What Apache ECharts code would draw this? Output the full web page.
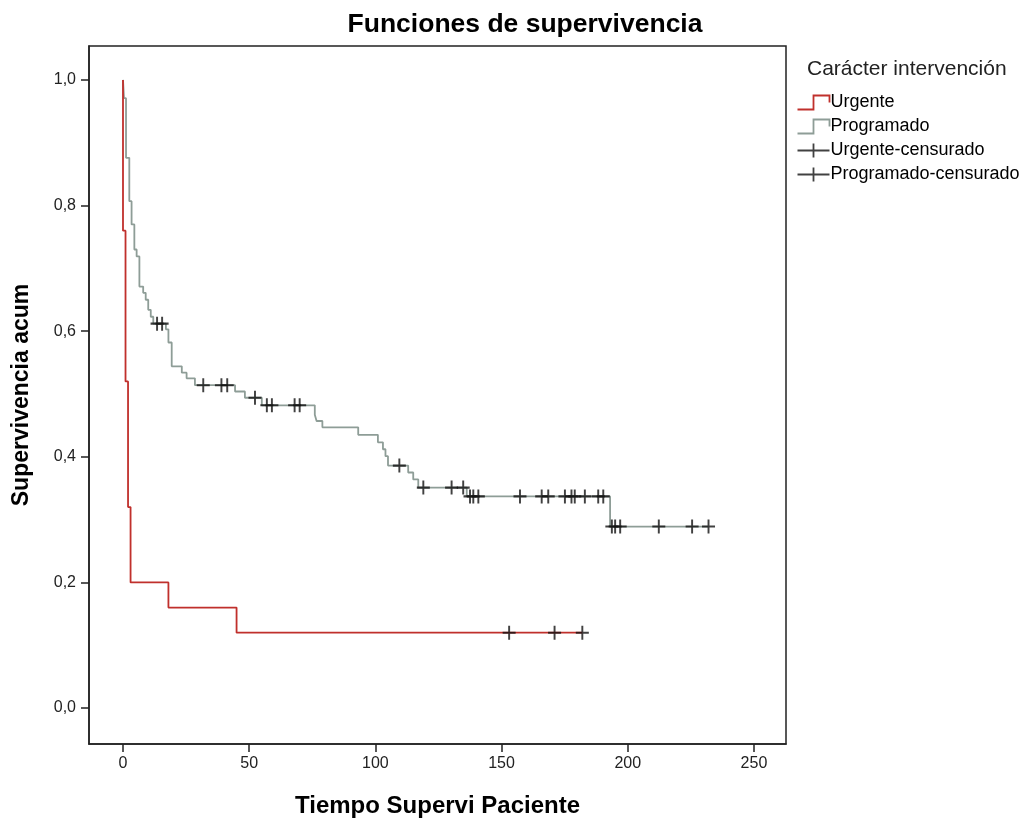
<!DOCTYPE html>
<html>
<head>
<meta charset="utf-8">
<script src="https://cdn.jsdelivr.net/npm/echarts@6/dist/echarts.min.js"></script>
<style>
  html, body { margin: 0; padding: 0; background: #ffffff; }
  #chart { width: 1029px; height: 823px; }
</style>
</head>
<body>
<div id="chart"></div>
<script>
// Kaplan-Meier estimates: [time, cumulative survival after the event at that time]
const urgenteSteps = [
  [0, 1.00], [0, 0.76], [1, 0.52], [2, 0.32], [3, 0.20], [18, 0.16], [45, 0.12], [182, 0.12]
];
const programadoSteps = [
  [0, 1.00], [0.4, 0.971], [1.2, 0.876], [2.5, 0.807], [3.4, 0.770], [4.5, 0.730],
  [5.4, 0.719], [6.5, 0.671], [8, 0.661], [9, 0.650], [10, 0.634], [11, 0.623],
  [12, 0.612], [17, 0.603], [18, 0.582], [19.3, 0.544], [23.3, 0.534], [25.2, 0.525],
  [28.5, 0.514], [44.4, 0.504], [48.3, 0.494], [55, 0.482], [76, 0.467], [76.7, 0.457],
  [79, 0.447], [93.2, 0.435], [101, 0.423], [103, 0.412], [104, 0.401], [105, 0.386],
  [113, 0.375], [115, 0.364], [117, 0.351], [136.2, 0.337], [193, 0.289], [232, 0.289]
];
// Censored observations: [time, survival level]
const urgenteCensored = [[153, 0.12], [171, 0.12], [182, 0.12]];
const programadoCensored = [
  [13.5, 0.612], [15.5, 0.612],
  [31.8, 0.514], [39, 0.514], [41.3, 0.514],
  [52.3, 0.494],
  [57, 0.482], [59, 0.482], [68, 0.482], [70, 0.482],
  [109.5, 0.386],
  [119, 0.351], [130.2, 0.351], [134.8, 0.351],
  [137.5, 0.337], [138.8, 0.337], [140.8, 0.337], [157.3, 0.337], [165.9, 0.337],
  [168.5, 0.337], [175.1, 0.337], [177.7, 0.337], [179, 0.337], [183, 0.337],
  [188.3, 0.337], [190.3, 0.337],
  [193.7, 0.289], [195, 0.289], [197, 0.289], [212.3, 0.289], [225.5, 0.289], [232, 0.289]
];
const xTicks = [0, 50, 100, 150, 200, 250];
const yTicks = [0, 0.2, 0.4, 0.6, 0.8, 1.0];

const RED = '#c0302c';
const GRAY = '#8e9d97';
const INK = '#111111';
const FONT = '"Liberation Sans", Arial, sans-serif';

const plusSymbol = 'path://M0,7 L14,7 M7,0 L7,14';
const stepIconUp = 'path://M0,14 L16,14 L16,0 L32,0 L32,7';
const censorIcon = 'path://M0,7 L32,7 M16,0 L16,14';

const chart = echarts.init(document.getElementById('chart'), null, { renderer: 'canvas' });

chart.setOption({
  animation: false,
  backgroundColor: '#ffffff',
  textStyle: { fontFamily: FONT },
  title: [
    {
      text: 'Funciones de supervivencia',
      left: 520, top: 6, textAlign: 'center',
      textStyle: { fontFamily: FONT, fontSize: 26.5, fontWeight: 'bold', color: '#000' }
    },
    {
      text: 'Carácter intervención',
      left: 807, top: 59, padding: 0,
      textStyle: { fontFamily: FONT, fontSize: 21, fontWeight: 'normal', color: '#222' }
    }
  ],
  legend: {
    orient: 'vertical',
    left: 795, top: 93, padding: 0,
    itemWidth: 32, itemHeight: 14, itemGap: 5,
    selectedMode: false,
    textStyle: { fontFamily: FONT, fontSize: 18, color: '#000', padding: [0, 0, 0, -4] },
    data: [
      { name: 'Urgente', icon: stepIconUp,
        itemStyle: { color: 'none', borderColor: RED, borderWidth: 1.8 } },
      { name: 'Programado', icon: stepIconUp,
        itemStyle: { color: 'none', borderColor: GRAY, borderWidth: 1.8 } },
      { name: 'Urgente-censurado', icon: censorIcon,
        itemStyle: { color: 'none', borderColor: INK, borderWidth: 1.8 } },
      { name: 'Programado-censurado', icon: censorIcon,
        itemStyle: { color: 'none', borderColor: INK, borderWidth: 1.8 } }
    ]
  },
  grid: {
    left: 89, right: 243, top: 46, bottom: 78,
    show: true, borderColor: '#222', borderWidth: 1.5, backgroundColor: '#ffffff'
  },
  xAxis: {
    type: 'value',
    min: -13.47, max: 262.7,
    name: 'Tiempo Supervi Paciente',
    nameLocation: 'middle', nameGap: 50,
    nameTextStyle: { fontFamily: FONT, fontSize: 24, fontWeight: 'bold', color: '#000' },
    axisLine: { show: true, onZero: false, lineStyle: { color: '#222', width: 1.5 } },
    axisTick: { show: true, inside: false, length: 8, customValues: xTicks,
      lineStyle: { color: '#222', width: 1.5 } },
    axisLabel: { customValues: xTicks, margin: 12, fontSize: 16, color: '#222', fontFamily: FONT },
    splitLine: { show: false }
  },
  yAxis: {
    type: 'value',
    min: -0.0572, max: 1.054,
    name: 'Supervivencia acum',
    nameLocation: 'middle', nameGap: 56, nameRotate: 90,
    nameTextStyle: { fontFamily: FONT, fontSize: 23, fontWeight: 'bold', color: '#000' },
    axisLine: { show: true, onZero: false, lineStyle: { color: '#222', width: 1.5 } },
    axisTick: { show: true, inside: false, length: 8, customValues: yTicks,
      lineStyle: { color: '#222', width: 1.5 } },
    axisLabel: {
      customValues: yTicks, margin: 13, fontSize: 16, color: '#222', fontFamily: FONT,
      formatter: v => v.toFixed(1).replace('.', ',')
    },
    splitLine: { show: false }
  },
  series: [
    {
      name: 'Urgente', type: 'line', step: 'end', data: urgenteSteps,
      showSymbol: false, symbol: 'none', z: 3,
      lineStyle: { color: RED, width: 1.8 }, itemStyle: { color: RED }
    },
    {
      name: 'Programado', type: 'line', step: 'end', data: programadoSteps,
      showSymbol: false, symbol: 'none', z: 2,
      lineStyle: { color: GRAY, width: 1.8 }, itemStyle: { color: GRAY }
    },
    {
      name: 'Urgente-censurado', type: 'scatter', data: urgenteCensored,
      symbol: plusSymbol, symbolSize: [13, 14], z: 4,
      itemStyle: { color: 'none', borderColor: INK, borderWidth: 2 }
    },
    {
      name: 'Programado-censurado', type: 'scatter', data: programadoCensored,
      symbol: plusSymbol, symbolSize: [13, 14], z: 4,
      itemStyle: { color: 'none', borderColor: INK, borderWidth: 2 }
    }
  ]
});
</script>
</body>
</html>
